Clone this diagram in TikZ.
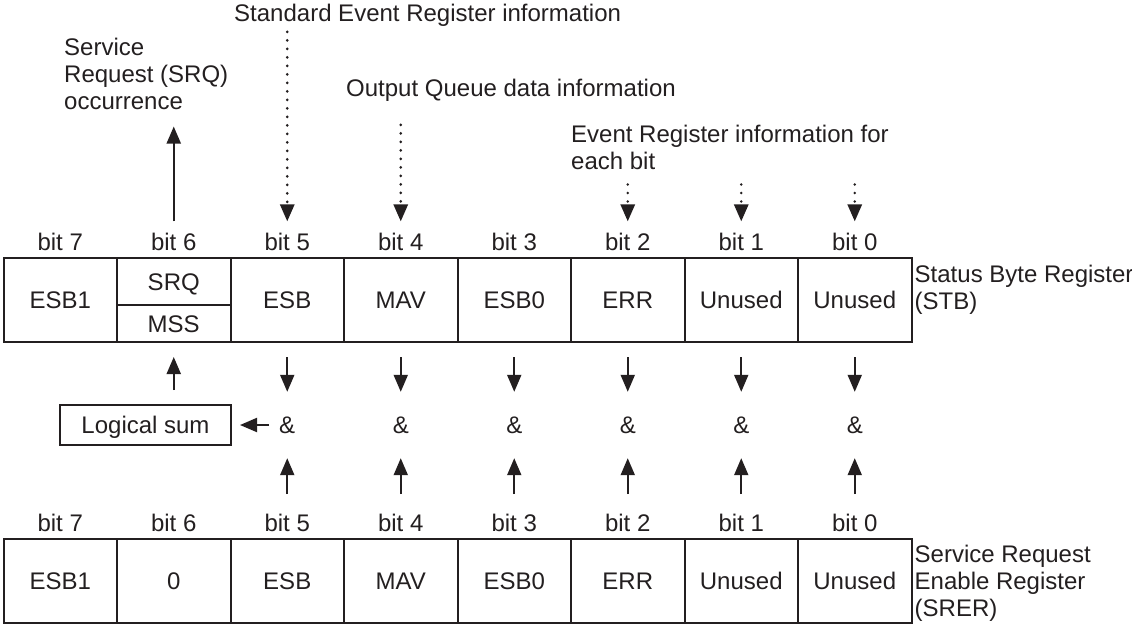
\documentclass[tikz,border=0pt]{standalone}
\usepackage{fontspec}
\setmainfont{Liberation Sans}
\usepackage{tikz}
\usetikzlibrary{arrows.meta}
\definecolor{ink}{HTML}{231F20}
\tikzset{
  regcell/.style={
    draw=ink, line width=2pt, minimum width=113.5pt, minimum height=84pt,
    inner sep=0pt, text height=17pt, text depth=0pt,
  },
  bitlabel/.style={anchor=base, inner sep=0pt},
  andsign/.style={
    minimum width=20pt, minimum height=66pt, inner sep=0pt,
    text height=17pt, text depth=0pt,
  },
  sumbox/.style={
    draw=ink, line width=2pt, minimum width=171pt, minimum height=40pt,
    inner sep=0pt, text height=17pt, text depth=0pt,
  },
  notetext/.style={align=left, inner sep=0pt},
  arrowSolid/.style={
    -{Triangle[length=17pt,width=14pt]}, line width=2pt, draw=ink,
  },
  arrowDotted/.style={
    -{Triangle[length=17pt,width=14pt]}, line width=2.8pt, draw=ink,
    line cap=round, dash pattern=on 0pt off 8.5pt,
  },
}

\begin{document}
\begin{tikzpicture}[x=1pt, y=-1pt, text=ink, font=\fontsize{24}{27}\selectfont]
\useasboundingbox (0,0) rectangle (1132,625);

% Status Byte Register (STB)
\foreach \b/\txt in {7/ESB1, 6/{}, 5/ESB, 4/MAV, 3/ESB0, 2/ERR, 1/Unused, 0/Unused} {
  \node[regcell] (s\b) at ({60.25+113.5*(7-\b)}, 300) {\txt};
  \node[bitlabel] (t\b) at ([yshift=7pt]s\b.north) {bit \b};
}
\node[regcell, minimum height=47pt] (srq) at (173.75, 281.5) {SRQ};
\node[regcell, minimum height=37pt] (mss) at (173.75, 323.5) {MSS};
\node[notetext, anchor=north west] (stbname) at ([xshift=2pt, yshift=-7.5pt]s0.north east) {Status Byte Register\\(STB)};

% Service Request Enable Register (SRER)
\foreach \b/\txt in {7/ESB1, 6/0, 5/ESB, 4/MAV, 3/ESB0, 2/ERR, 1/Unused, 0/Unused} {
  \node[regcell] (r\b) at ({60.25+113.5*(7-\b)}, 581) {\txt};
  \node[bitlabel] (u\b) at ([yshift=7pt]r\b.north) {bit \b};
}
\node[notetext, anchor=north west] (srername) at ([xshift=2pt, yshift=-6.5pt]r0.north east) {Service Request\\Enable Register\\(SRER)};

% Service request output
\node[notetext, anchor=north west] (srqtxt) at (64, 37.5) {Service\\Request (SRQ)\\occurrence};
\draw[arrowSolid, shorten <=11pt, shorten >=17pt] (t6.north) -- (t6.north |- srqtxt.south);

% Information sources
\node[notetext, anchor=base west] (sertxt) at (234, 21.7) {Standard Event Register information};
\node[notetext, anchor=base west] (oqtxt) at (346, 96.7) {Output Queue data information};
\node[notetext, anchor=north west] (ertxt) at (571, 124.5) {Event Register information for\\each bit};
\draw[arrowDotted, shorten <=5pt, shorten >=11pt] (sertxt.south -| t5) -- (t5.north);
\draw[arrowDotted, shorten <=23pt, shorten >=11pt] (oqtxt.south -| t4) -- (t4.north);
\foreach \b in {2,1,0}
  \draw[arrowDotted, shorten <=15pt, shorten >=11pt] (ertxt.south -| t\b) -- (t\b.north);

% AND of each bit
\foreach \b in {5,...,0} {
  \node[andsign] (a\b) at (s\b |- 0,425) {\&};
  \draw[arrowSolid, shorten <=14pt] (s\b) -- (a\b);
  \draw[arrowSolid, shorten <=44pt] (r\b) -- (a\b);
}

% Logical sum into MSS
\node[sumbox] (lsum) at (145.5, 425) {Logical sum};
\draw[arrowSolid, shorten <=8pt, shorten >=8pt] (a5) -- (lsum);
\draw[arrowSolid, shorten <=14pt, shorten >=14pt] (lsum.north -| mss) -- (mss.south);

\end{tikzpicture}
\end{document}
